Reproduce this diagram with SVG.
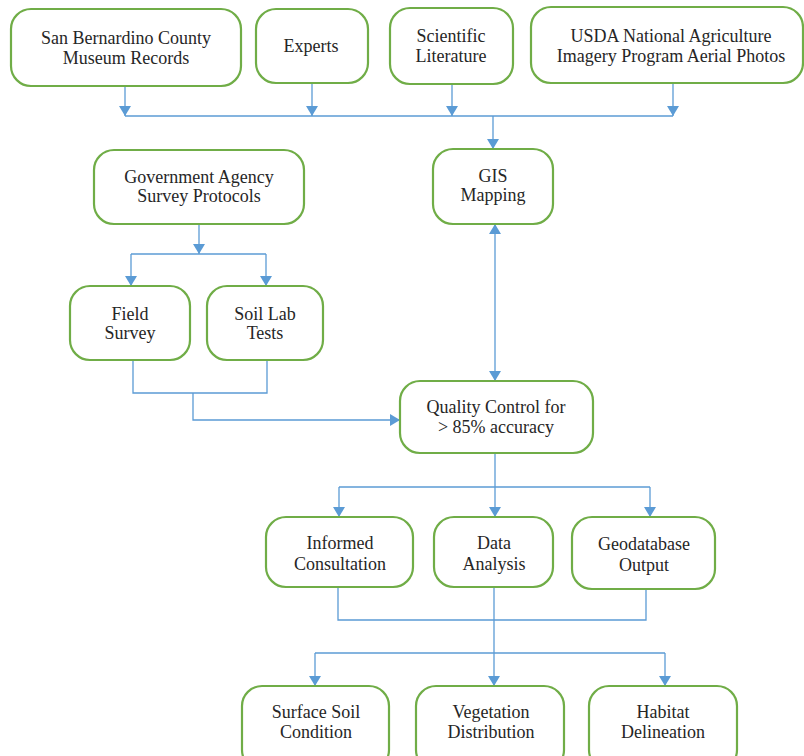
<svg xmlns="http://www.w3.org/2000/svg" width="804" height="756" viewBox="0 0 804 756">
<style>
.box{fill:#fff;stroke:#70AD47;stroke-width:2.2}
.t{font-family:"Liberation Serif","Times New Roman",serif;font-size:18px;fill:#262626;text-anchor:middle}
.c{fill:none;stroke:#5B9BD5;stroke-width:1.3}
</style>
<defs>
<marker id="arr" viewBox="0 0 10 12" refX="10" refY="6" markerWidth="10" markerHeight="12" orient="auto-start-reverse" markerUnits="userSpaceOnUse">
<path d="M0,0 L10,6 L0,12 z" fill="#5B9BD5"/>
</marker>
</defs>
<rect width="804" height="756" fill="#fff"/>
<g id="connectors">
<path class="c" d="M125,86 V116" marker-end="url(#arr)"/>
<path class="c" d="M312,83 V116" marker-end="url(#arr)"/>
<path class="c" d="M452,84 V116" marker-end="url(#arr)"/>
<path class="c" d="M673,83 V116" marker-end="url(#arr)"/>
<path class="c" d="M125,116 H673"/>
<path class="c" d="M493,116 V149" marker-end="url(#arr)"/>
<path class="c" d="M199,224 V254" marker-end="url(#arr)"/>
<path class="c" d="M131,254 H266"/>
<path class="c" d="M131,254 V286" marker-end="url(#arr)"/>
<path class="c" d="M266,254 V286" marker-end="url(#arr)"/>
<path class="c" d="M133,360 V393 H267 V360"/>
<path class="c" d="M193,393 V420 H400" marker-end="url(#arr)"/>
<path class="c" d="M495,224 V381" marker-start="url(#arr)" marker-end="url(#arr)"/>
<path class="c" d="M495,453 V517" marker-end="url(#arr)"/>
<path class="c" d="M339,487 H650"/>
<path class="c" d="M339,487 V517" marker-end="url(#arr)"/>
<path class="c" d="M650,487 V517" marker-end="url(#arr)"/>
<path class="c" d="M338,587 V620 H646 V590"/>
<path class="c" d="M494,587 V686" marker-end="url(#arr)"/>
<path class="c" d="M315,653 H665"/>
<path class="c" d="M315,653 V686" marker-end="url(#arr)"/>
<path class="c" d="M665,653 V686" marker-end="url(#arr)"/>
</g>
<g id="sanbernardino"><rect class="box" x="11" y="9" width="230" height="77" rx="20"/><text class="t" x="126" y="44">San Bernardino County</text><text class="t" x="126" y="64">Museum Records</text></g>
<g id="experts"><rect class="box" x="256" y="9" width="112" height="74" rx="20"/><text class="t" x="311" y="52">Experts</text></g>
<g id="scientific"><rect class="box" x="390" y="8" width="123" height="76" rx="20"/><text class="t" x="451" y="42">Scientific</text><text class="t" x="451" y="62">Literature</text></g>
<g id="usda"><rect class="box" x="531" y="7" width="272" height="76" rx="20"/><text class="t" x="671" y="42">USDA National Agriculture</text><text class="t" x="671" y="62">Imagery Program Aerial Photos</text></g>
<g id="gov"><rect class="box" x="94" y="150" width="210" height="74" rx="20"/><text class="t" x="199" y="183">Government Agency</text><text class="t" x="199" y="202">Survey Protocols</text></g>
<g id="gis"><rect class="box" x="433" y="149" width="120" height="75" rx="20"/><text class="t" x="493" y="182">GIS</text><text class="t" x="493" y="201">Mapping</text></g>
<g id="field"><rect class="box" x="70" y="286" width="120" height="74" rx="20"/><text class="t" x="130" y="320">Field</text><text class="t" x="130" y="339">Survey</text></g>
<g id="soillab"><rect class="box" x="207" y="286" width="116" height="74" rx="20"/><text class="t" x="265" y="320">Soil Lab</text><text class="t" x="265" y="339">Tests</text></g>
<g id="qc"><rect class="box" x="400" y="381" width="193" height="72" rx="20"/><text class="t" x="496" y="413">Quality Control for</text><text class="t" x="496" y="433">&gt; 85% accuracy</text></g>
<g id="informed"><rect class="box" x="266" y="517" width="147" height="70" rx="20"/><text class="t" x="340" y="549">Informed</text><text class="t" x="340" y="570">Consultation</text></g>
<g id="data"><rect class="box" x="434" y="517" width="119" height="70" rx="20"/><text class="t" x="494" y="549">Data</text><text class="t" x="494" y="570">Analysis</text></g>
<g id="geodatabase"><rect class="box" x="572" y="517" width="143" height="72" rx="20"/><text class="t" x="644" y="550">Geodatabase</text><text class="t" x="644" y="571">Output</text></g>
<g id="surface"><rect class="box" x="242" y="686" width="147" height="84" rx="20"/><text class="t" x="316" y="718">Surface Soil</text><text class="t" x="316" y="738">Condition</text></g>
<g id="vegetation"><rect class="box" x="416" y="686" width="148" height="84" rx="20"/><text class="t" x="491" y="718">Vegetation</text><text class="t" x="491" y="738">Distribution</text></g>
<g id="habitat"><rect class="box" x="589" y="686" width="148" height="84" rx="20"/><text class="t" x="663" y="718">Habitat</text><text class="t" x="663" y="738">Delineation</text></g>
</svg>
